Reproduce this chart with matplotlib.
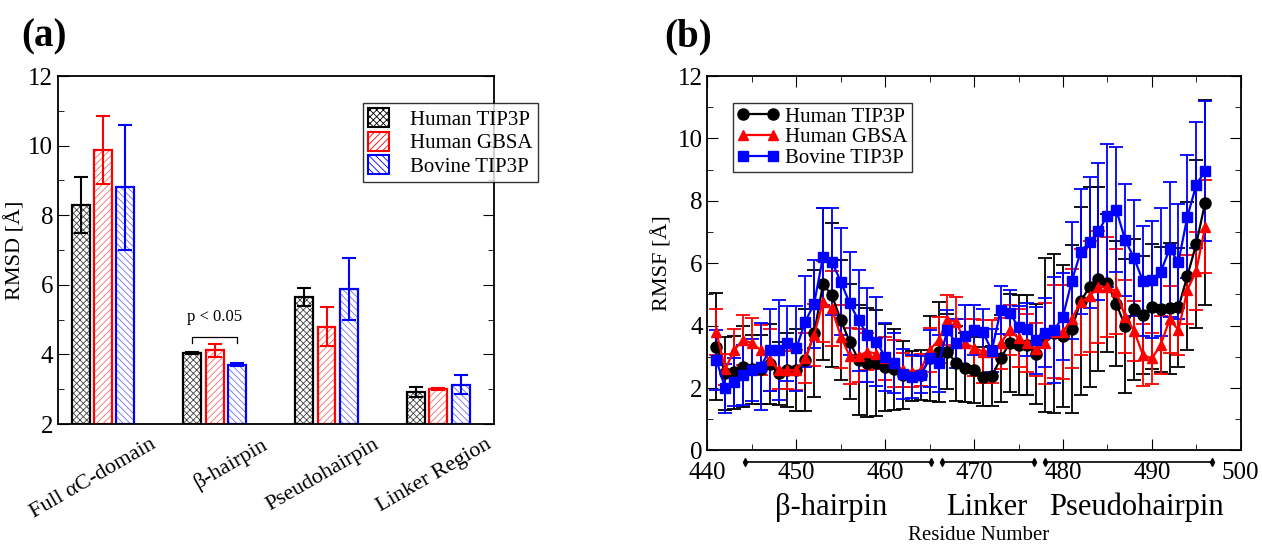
import numpy as np
import matplotlib
matplotlib.use('Agg')
import matplotlib.pyplot as plt
from matplotlib.patches import Patch
from matplotlib.lines import Line2D
from matplotlib.ticker import MultipleLocator

plt.rcParams['font.family'] = ['Liberation Serif', 'DejaVu Serif']
plt.rcParams['hatch.linewidth'] = 0.6

# Панель (a): RMSD по областям
regions = ['Full αC-domain', 'β-hairpin', 'Pseudohairpin', 'Linker Region']
series = ['Human TIP3P', 'Human GBSA', 'Bovine TIP3P']
rmsd_human_tip3p = [8.3, 4.05, 5.65, 2.93]
rmsd_human_tip3p_err = [0.8, 0.03, 0.27, 0.14]
rmsd_human_gbsa = [9.88, 4.12, 4.8, 3.0]
rmsd_human_gbsa_err = [0.97, 0.18, 0.57, 0.03]
rmsd_bovine_tip3p = [8.8, 3.71, 5.88, 3.13]
rmsd_bovine_tip3p_err = [1.8, 0.03, 0.88, 0.28]

# Панель (b): RMSF по остаткам 441..496
residues = list(range(441, 497))
rmsf_human_tip3p = [3.33, 2.47, 2.5, 2.69, 2.6, 2.6, 2.77, 2.47, 2.58, 2.58,
                    2.9, 3.75, 5.33, 4.98, 4.18, 3.49, 2.9, 2.82, 2.79, 2.67,
                    2.6, 2.42, 2.4, 2.42, 2.95, 3.15, 3.17, 2.79, 2.66, 2.58,
                    2.37, 2.39, 2.95, 3.45, 3.37, 3.39, 3.1, 3.7, 3.75, 3.66,
                    3.9, 4.79, 5.24, 5.5, 5.37, 4.7, 3.99, 4.52, 4.34, 4.61,
                    4.52, 4.56, 4.59, 5.59, 6.62, 7.94]
rmsf_human_tip3p_err = [1.72, 1.16, 1.16, 1.3, 1.1, 1.1, 1.28, 1.0, 1.2, 1.3,
                        1.65, 2.05, 2.43, 2.3, 1.92, 1.85, 1.75, 1.75, 1.7, 1.4,
                        1.3, 1.1, 0.8, 0.8, 1.35, 1.6, 1.2, 1.2, 1.1, 1.05,
                        0.95, 0.95, 1.4, 1.56, 1.6, 1.6, 1.6, 2.46, 2.55, 2.27,
                        2.7, 3.0, 3.2, 2.95, 2.2, 2.0, 2.16, 2.25, 1.9, 2.0,
                        2.0, 2.1, 1.9, 2.37, 2.7, 3.28]
rmsf_human_gbsa = [3.8, 2.6, 3.22, 3.54, 3.44, 3.22, 2.9, 2.58, 2.58, 2.58,
                   2.95, 3.7, 4.77, 4.56, 3.65, 3.03, 3.03, 3.17, 3.1, 2.95,
                   2.79, 2.58, 2.53, 2.58, 3.22, 3.54, 4.18, 4.13, 3.43, 3.3,
                   3.17, 3.17, 3.43, 3.86, 3.6, 3.43, 3.24, 3.43, 3.81, 3.8,
                   4.23, 4.75, 4.95, 5.25, 5.23, 5.1, 4.29, 3.84, 3.06, 2.95,
                   3.38, 4.2, 3.86, 5.15, 5.76, 7.17]
rmsf_human_gbsa_err = [0.75, 0.5, 0.66, 0.8, 0.8, 0.8, 1.0, 0.6, 0.6, 0.65,
                       0.8, 1.0, 1.3, 1.2, 1.0, 0.9, 0.85, 0.6, 0.5, 0.7,
                       0.75, 0.55, 0.5, 0.5, 0.7, 0.75, 0.8, 0.8, 0.8, 0.9,
                       1.0, 1.0, 0.82, 0.8, 0.93, 0.93, 0.85, 1.3, 1.5, 1.5,
                       1.6, 1.7, 1.78, 1.8, 1.6, 1.37, 1.18, 0.96, 1.0, 0.83,
                       0.92, 1.06, 0.8, 1.1, 1.25, 1.49]
rmsf_bovine_tip3p = [2.9, 1.99, 2.2, 2.42, 2.58, 2.69, 3.22, 3.22, 3.43, 3.27,
                     4.13, 4.7, 6.21, 6.05, 5.41, 4.72, 4.17, 3.71, 3.49, 3.0,
                     2.79, 2.45, 2.37, 2.43, 2.95, 2.79, 3.86, 3.43, 3.66, 3.86,
                     3.79, 3.2, 4.51, 4.42, 3.95, 3.88, 3.53, 3.78, 3.85, 4.29,
                     5.44, 6.37, 6.68, 7.03, 7.53, 7.72, 6.75, 6.17, 5.43, 5.48,
                     5.73, 6.45, 6.05, 7.49, 8.51, 8.97]
rmsf_bovine_tip3p_err = [0.96, 0.78, 0.77, 0.96, 1.0, 1.4, 1.3, 1.6, 1.2, 1.35,
                         1.45, 1.4, 1.55, 1.71, 1.71, 1.65, 1.62, 1.51, 1.42, 1.1,
                         0.96, 0.8, 0.7, 0.6, 0.9, 0.9, 0.65, 0.8, 1.0, 0.8,
                         0.73, 0.7, 0.77, 0.73, 0.67, 0.85, 1.08, 1.1, 1.7, 1.4,
                         1.87, 2.0, 2.1, 2.2, 2.28, 2.0, 1.8, 1.87, 1.77, 1.88,
                         2.05, 2.17, 1.85, 1.97, 2.03, 2.24]

# Области белка под осью
segment_names = ['β-hairpin', 'Linker', 'Pseudohairpin']
segment_starts = [444.2, 466.4, 478.0]
segment_ends = [465.1, 476.7, 496.8]
segment_label_x = [453.9, 471.4, 488.3]

colors = ['black', 'red', 'blue']
light = ['#444444', '#f07070', '#7070f0']
hatches = ['xxxxx', '/////', '\\\\\\\\\\']

fig = plt.figure(figsize=(12.62, 5.45), dpi=100)

# ---- (a) ----
ax1 = fig.add_axes([0.046, 0.222, 0.3455, 0.6385])
x = np.arange(len(regions))
w = 0.161
vals = [rmsd_human_tip3p, rmsd_human_gbsa, rmsd_bovine_tip3p]
errs = [rmsd_human_tip3p_err, rmsd_human_gbsa_err, rmsd_bovine_tip3p_err]
for i in range(3):
    pos = x + (i - 1) * 0.2
    heights = np.array(vals[i]) - 2
    ax1.bar(pos, heights, w, bottom=2, color='white', edgecolor=light[i],
            hatch=hatches[i], linewidth=0)
    ax1.bar(pos, heights, w, bottom=2, fill=False, edgecolor=colors[i],
            linewidth=1.6)
    ax1.errorbar(pos, vals[i], yerr=errs[i], fmt='none', ecolor=colors[i],
                 elinewidth=1.5, capsize=5, capthick=1.5)

# скобка p < 0.05
ax1.plot([0.8, 0.8, 1.2, 1.2], [4.34, 4.49, 4.49, 4.34], color='black', lw=0.9)
ax1.text(1.0, 5.07, 'p < 0.05', ha='center', va='center', fontsize=12)

ax1.set_xlim(-0.403, 3.5)
ax1.set_ylim(2, 12)
ax1.yaxis.set_major_locator(MultipleLocator(2))
ax1.yaxis.set_minor_locator(MultipleLocator(1))
ax1.tick_params(axis='y', which='both', direction='in', right=True,
                labelsize=18)
ax1.tick_params(axis='y', which='major', length=8)
ax1.tick_params(axis='y', which='minor', length=4)
ax1.set_xticks(x + 0.42)
ax1.set_xticklabels(regions, rotation=30, ha='right', rotation_mode='anchor',
                    fontsize=16)
ax1.tick_params(axis='x', length=0, pad=8)
ax1.set_ylabel('RMSD [Å]', fontsize=16, labelpad=2)
for s in ax1.spines.values():
    s.set_linewidth(1.3)

handles_a = [Patch(facecolor='white', edgecolor=colors[i], hatch=hatches[i],
                   linewidth=1.5) for i in range(3)]
leg1 = ax1.legend(handles_a, series, loc='upper left',
                  bbox_to_anchor=(0.70, 0.922), borderaxespad=0, fontsize=15,
                  fancybox=False, edgecolor='black', handlelength=1.0,
                  handleheight=1.0, handletextpad=1.0, labelspacing=0.1,
                  borderpad=0.25)
leg1.get_frame().set_linewidth(1.0)

fig.text(0.017, 0.915, '(a)', fontsize=28, fontweight='bold')

# ---- (b) ----
ax2 = fig.add_axes([0.5606, 0.1734, 0.4225, 0.687])
rmsf = [rmsf_human_tip3p, rmsf_human_gbsa, rmsf_bovine_tip3p]
rmsf_err = [rmsf_human_tip3p_err, rmsf_human_gbsa_err, rmsf_bovine_tip3p_err]
markers = ['o', '^', 's']
msizes = [8, 7.5, 7]
for i in range(3):
    ax2.errorbar(residues, rmsf[i], yerr=rmsf_err[i], fmt='-', marker=markers[i],
                 color=colors[i], ms=msizes[i], lw=1.6, elinewidth=1.3,
                 capsize=5, capthick=1.3)

ax2.set_xlim(440, 500)
ax2.set_ylim(0, 12)
ax2.xaxis.set_major_locator(MultipleLocator(10))
ax2.xaxis.set_minor_locator(MultipleLocator(5))
ax2.yaxis.set_major_locator(MultipleLocator(2))
ax2.yaxis.set_minor_locator(MultipleLocator(1))
ax2.tick_params(which='both', direction='in', top=True, right=True,
                labelsize=18)
ax2.tick_params(which='major', length=8)
ax2.tick_params(which='minor', length=4)
ax2.tick_params(axis='x', pad=8)
ax2.set_ylabel('RMSF [Å]', fontsize=16, labelpad=4)
for s in ax2.spines.values():
    s.set_linewidth(1.3)

trans = ax2.get_xaxis_transform()
for name, x0, x1, xc in zip(segment_names, segment_starts, segment_ends,
                            segment_label_x):
    ax2.plot([x0, x1], [-0.03, -0.03], color='black', lw=1.2, marker='d',
             ms=4, transform=trans, clip_on=False)
    ax2.text(xc, -0.151, name, ha='center', va='center', fontsize=22,
             transform=trans)
ax2.text(470.5, -0.226, 'Residue Number', ha='center', va='center',
         fontsize=15, transform=trans)

handles_b = [Line2D([0], [0], color=colors[i], marker=markers[i], ms=msizes[i],
                    lw=1.6) for i in range(3)]
leg2 = ax2.legend(handles_b, series, loc='upper left',
                  bbox_to_anchor=(0.048, 0.928), borderaxespad=0, fontsize=15,
                  fancybox=False, edgecolor='black', numpoints=2,
                  handlelength=2.0, handletextpad=0.3, labelspacing=0.05,
                  borderpad=0.2)
leg2.get_frame().set_linewidth(1.0)

fig.text(0.526, 0.915, '(b)', fontsize=28, fontweight='bold')

plt.savefig('out.png', dpi=100)
